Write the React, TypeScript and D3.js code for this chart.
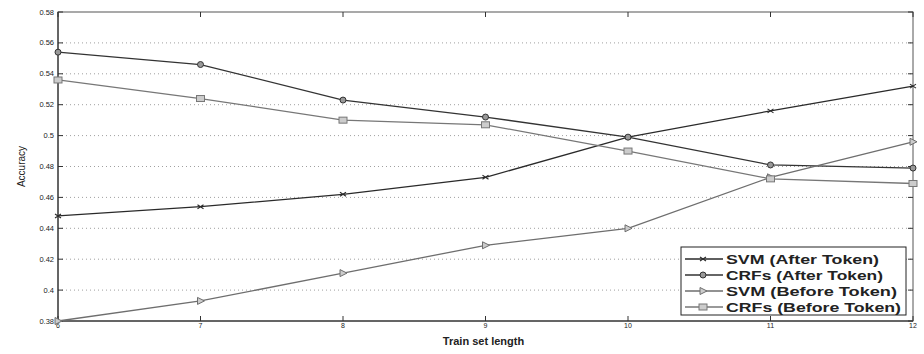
import * as d3 from 'd3';
import { useRef, useEffect } from 'react';

const trainLengths = [6, 7, 8, 9, 10, 11, 12];
const yTicks = [0.38, 0.4, 0.42, 0.44, 0.46, 0.48, 0.5, 0.52, 0.54, 0.56, 0.58];

const svmAfter = [0.448, 0.454, 0.462, 0.473, 0.499, 0.516, 0.532];
const crfAfter = [0.554, 0.546, 0.523, 0.512, 0.499, 0.481, 0.479];
const svmBefore = [0.38, 0.393, 0.411, 0.429, 0.44, 0.473, 0.496];
const crfBefore = [0.536, 0.524, 0.51, 0.507, 0.49, 0.472, 0.469];

const seriesNames = ['SVM (After Token)', 'CRFs (After Token)', 'SVM (Before Token)', 'CRFs (Before Token)'];
// legend text widths as they appear in the reference
const legendWidths = [153, 157, 171, 175];

interface Series {
  name: string;
  values: number[];
  color: string;
  marker: 'x' | 'circle' | 'tri' | 'square';
}

const series: Series[] = [
  { name: seriesNames[0], values: svmAfter, color: '#2a2a2a', marker: 'x' },
  { name: seriesNames[1], values: crfAfter, color: '#333', marker: 'circle' },
  { name: seriesNames[2], values: svmBefore, color: '#6e6e6e', marker: 'tri' },
  { name: seriesNames[3], values: crfBefore, color: '#777', marker: 'square' },
];

const W = 924;
const H = 354;

function drawMarker(g: d3.Selection<SVGGElement, unknown, null, undefined>, kind: string, x: number, y: number, color: string) {
  if (kind === 'x') {
    g.append('path').attr('d', `M${x - 3},${y - 2}L${x + 3},${y + 2}M${x - 3},${y + 2}L${x + 3},${y - 2}`)
      .attr('stroke', color).attr('stroke-width', 1.1).attr('fill', 'none');
  } else if (kind === 'circle') {
    g.append('circle').attr('cx', x).attr('cy', y).attr('r', 3)
      .attr('stroke', color).attr('fill', '#999').attr('stroke-width', 1);
  } else if (kind === 'tri') {
    g.append('path').attr('d', `M${x - 3},${y - 3.5}L${x + 4},${y}L${x - 3},${y + 3.5}Z`)
      .attr('stroke', color).attr('fill', '#ccc').attr('stroke-width', 1);
  } else {
    g.append('rect').attr('x', x - 4).attr('y', y - 3).attr('width', 8).attr('height', 6)
      .attr('stroke', color).attr('fill', '#ccc').attr('stroke-width', 1);
  }
}

const App: React.FC = () => {
  const ref = useRef<SVGSVGElement>(null);

  useEffect(() => {
    if (!ref.current) return;
    const svg = d3.select(ref.current);
    svg.selectAll('*').remove();

    const left = 58, right = 913, top = 12, bottom = 321;
    const x = d3.scaleLinear().domain([6, 12]).range([left, right]);
    const y = d3.scaleLinear().domain([0.38, 0.58]).range([bottom, top]);

    const g = svg.append('g');

    g.append('rect').attr('x', 0).attr('y', 0).attr('width', W).attr('height', H).attr('fill', '#fff');

    // dotted grid
    yTicks.slice(1, -1).forEach(t => {
      g.append('line').attr('x1', left).attr('x2', right).attr('y1', y(t)).attr('y2', y(t))
        .attr('stroke', '#888').attr('stroke-width', 0.8).attr('stroke-dasharray', '1,3');
    });

    // frame
    g.append('rect').attr('x', left).attr('y', top).attr('width', right - left).attr('height', bottom - top)
      .attr('fill', 'none').attr('stroke', '#555').attr('stroke-width', 1);
    g.append('line').attr('x1', left).attr('x2', left).attr('y1', top).attr('y2', bottom).attr('stroke', '#222');
    g.append('line').attr('x1', left).attr('x2', right).attr('y1', bottom).attr('y2', bottom).attr('stroke', '#222');

    // y ticks and labels
    yTicks.forEach(t => {
      g.append('line').attr('x1', left).attr('x2', left + 5).attr('y1', y(t)).attr('y2', y(t)).attr('stroke', '#333');
      g.append('line').attr('x1', right - 5).attr('x2', right).attr('y1', y(t)).attr('y2', y(t)).attr('stroke', '#333');
      g.append('text').attr('x', left - 4).attr('y', y(t) + 2.5).attr('text-anchor', 'end')
        .attr('font-family', 'Liberation Sans, Arial, sans-serif').attr('font-size', 7.5).attr('fill', '#222')
        .text(String(+t.toFixed(2)));
    });

    // x ticks and labels
    trainLengths.forEach(t => {
      g.append('line').attr('x1', x(t)).attr('x2', x(t)).attr('y1', bottom).attr('y2', bottom - 5).attr('stroke', '#333');
      g.append('line').attr('x1', x(t)).attr('x2', x(t)).attr('y1', top).attr('y2', top + 5).attr('stroke', '#333');
      g.append('text').attr('x', x(t)).attr('y', bottom + 7).attr('text-anchor', 'middle')
        .attr('font-family', 'Liberation Sans, Arial, sans-serif').attr('font-size', 7).attr('fill', '#222')
        .text(String(t));
    });

    // axis titles
    g.append('text').attr('x', (left + right) / 2 - 2).attr('y', 345).attr('text-anchor', 'middle')
      .attr('font-family', 'Liberation Sans, Arial, sans-serif').attr('font-size', 11).attr('font-weight', 'bold')
      .attr('fill', '#222').text('Train set length');
    g.append('text').attr('transform', `translate(25,${(top + bottom) / 2}) rotate(-90)`).attr('text-anchor', 'middle')
      .attr('font-family', 'Liberation Sans Narrow, Liberation Sans, Arial, sans-serif').attr('font-size', 10)
      .attr('fill', '#222').text('Accuracy');

    // lines
    const line = d3.line<number>().x((_, i) => x(trainLengths[i])).y(d => y(d));
    series.forEach(s => {
      g.append('path').attr('d', line(s.values)).attr('fill', 'none')
        .attr('stroke', s.color).attr('stroke-width', 1.3);
      s.values.forEach((v, i) => drawMarker(g, s.marker, x(trainLengths[i]), y(v), s.color));
    });

    // legend
    const lx = 681, ly = 247, lw = 225, lh = 68;
    g.append('rect').attr('x', lx).attr('y', ly).attr('width', lw).attr('height', lh)
      .attr('fill', '#fff').attr('stroke', '#222').attr('stroke-width', 1);
    series.forEach((s, i) => {
      const yy = ly + 12 + i * 16;
      g.append('line').attr('x1', lx + 4).attr('x2', lx + 42).attr('y1', yy).attr('y2', yy)
        .attr('stroke', s.color).attr('stroke-width', 1.3);
      drawMarker(g, s.marker, lx + 22, yy, s.color);
      g.append('text').attr('x', lx + 45).attr('y', yy + 4.5)
        .attr('font-family', 'Liberation Sans, Arial, sans-serif').attr('font-size', 13).attr('font-weight', 'bold')
        .attr('textLength', legendWidths[i]).attr('lengthAdjust', 'spacingAndGlyphs')
        .attr('fill', '#222').text(s.name);
    });
  }, []);

  return (
    <svg ref={ref} width={W} height={H} style={{ position: 'absolute', left: 0, top: 0 }}></svg>
  );
};

export default App;
